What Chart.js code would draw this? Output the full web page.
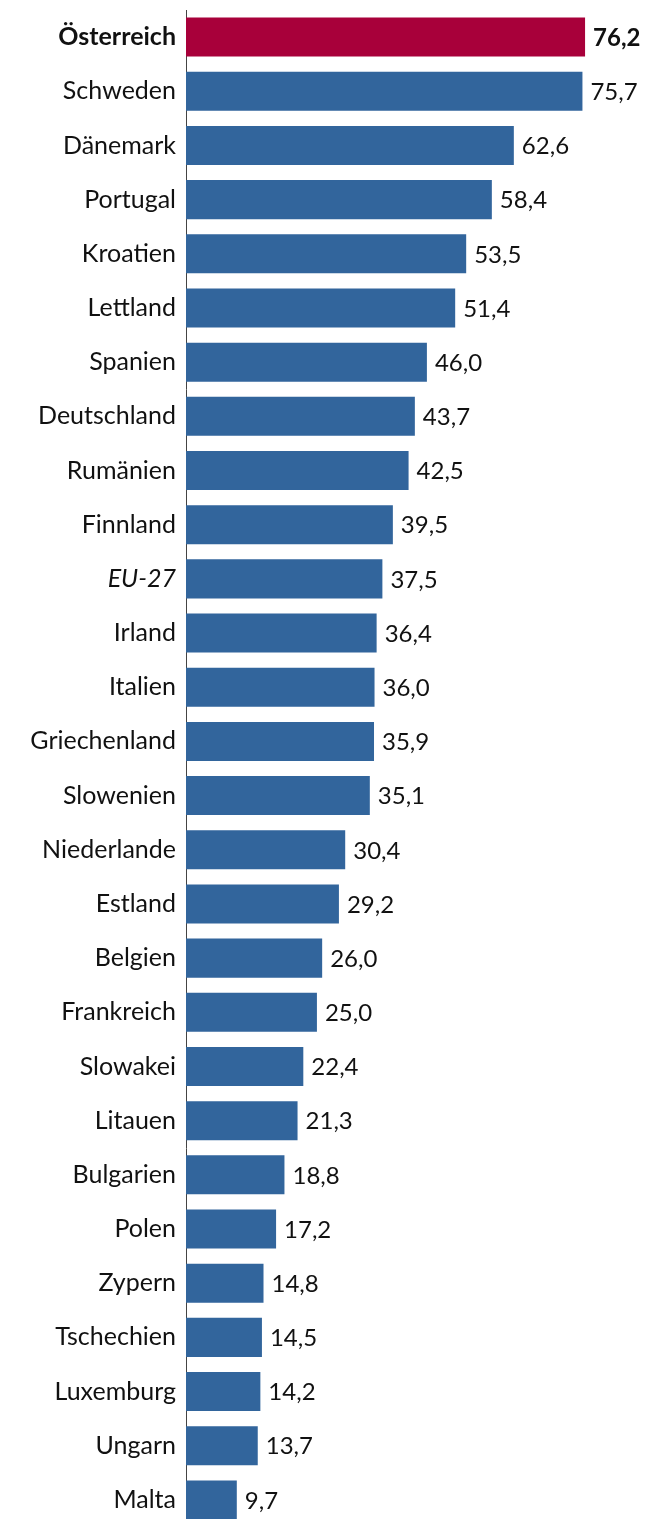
<!DOCTYPE html>
<html>
<head>
<meta charset="utf-8">
<script src="https://cdn.jsdelivr.net/npm/chart.js@4/dist/chart.umd.min.js"></script>
<style>
  html, body { margin: 0; padding: 0; background: #fff; overflow: hidden; }
  #chart { display: block; }
</style>
</head>
<body>
<canvas id="chart" width="661" height="1527"></canvas>
<script>
var countries = ['Österreich', 'Schweden', 'Dänemark', 'Portugal', 'Kroatien', 'Lettland',
  'Spanien', 'Deutschland', 'Rumänien', 'Finnland', 'EU-27', 'Irland', 'Italien',
  'Griechenland', 'Slowenien', 'Niederlande', 'Estland', 'Belgien', 'Frankreich',
  'Slowakei', 'Litauen', 'Bulgarien', 'Polen', 'Zypern', 'Tschechien', 'Luxemburg',
  'Ungarn', 'Malta'];
var values = [76.2, 75.7, 62.6, 58.4, 53.5, 51.4, 46.0, 43.7, 42.5, 39.5, 37.5, 36.4, 36.0,
  35.9, 35.1, 30.4, 29.2, 26.0, 25.0, 22.4, 21.3, 18.8, 17.2, 14.8, 14.5, 14.2, 13.7, 9.7];
var highlight = 'Österreich';
var average = 'EU-27';

var fontFamily = 'Lato, "Noto Sans", sans-serif';
var red = 'rgb(168, 0, 58)';
var blue = 'rgb(50, 101, 156)';

function fmt(v) {
  return v.toFixed(1).replace('.', ',');
}

// numbers at the end of each bar
var valueLabels = {
  id: 'valueLabels',
  afterDatasetsDraw: function (chart) {
    var ctx = chart.ctx;
    var meta = chart.getDatasetMeta(0);
    ctx.save();
    ctx.textAlign = 'left';
    ctx.textBaseline = 'middle';
    ctx.fillStyle = '#111';
    meta.data.forEach(function (bar, i) {
      var bold = countries[i] === highlight;
      ctx.font = (bold ? 'bold ' : '') + '24px ' + fontFamily;
      ctx.fillText(fmt(values[i]), bar.x + 8, bar.y + 1);
    });
    ctx.restore();
  }
};

var chart = new Chart(document.getElementById('chart').getContext('2d'), {
  type: 'bar',
  data: {
    labels: countries,
    datasets: [{
      data: values,
      backgroundColor: countries.map(function (c) { return c === highlight ? red : blue; }),
      barPercentage: 0.72,
      categoryPercentage: 1
    }]
  },
  options: {
    indexAxis: 'y',
    responsive: false,
    animation: false,
    devicePixelRatio: 1,
    layout: { padding: { top: 10, right: 0, bottom: 0, left: 0 } },
    plugins: {
      legend: { display: false },
      tooltip: { enabled: false }
    },
    scales: {
      x: {
        display: false,
        min: 0,
        max: 90.7
      },
      y: {
        afterFit: function (scale) {
          scale.width = 186;
          scale.paddingTop = 0;
          scale.paddingBottom = 0;
        },
        grid: { display: false, drawTicks: false },
        border: { display: true, color: '#444', width: 1 },
        ticks: {
          padding: 10,
          color: '#111',
          font: function (c) {
            var name = countries[c.index];
            return {
              family: fontFamily,
              size: 25,
              weight: name === highlight ? 'bold' : 'normal',
              style: name === average ? 'italic' : 'normal'
            };
          }
        }
      }
    }
  },
  plugins: [valueLabels]
});
</script>
</body>
</html>
